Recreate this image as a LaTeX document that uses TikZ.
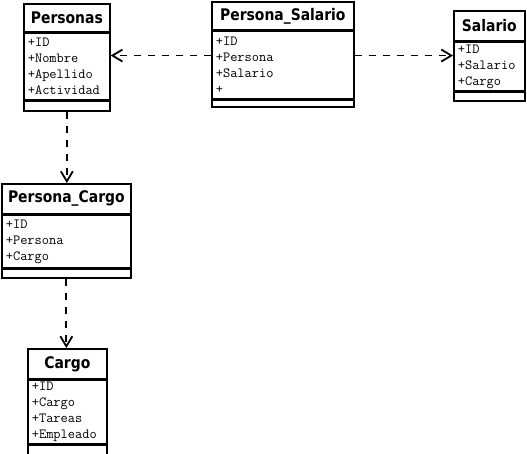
\documentclass[tikz,border=0pt]{standalone}
\usepackage{fontspec}
\usetikzlibrary{positioning,arrows.meta}
\newfontfamily\titlefont{DejaVu Sans}[FakeStretch=0.87]

\begin{document}
\begin{tikzpicture}[x=1pt, y=-1pt,
    ctitle/.style={draw, line width=1.7pt, inner sep=0pt, anchor=north west,
      font=\titlefont\bfseries\fontsize{16}{18}\selectfont},
    cattr/.style={draw, line width=1.7pt, inner xsep=4pt, inner ysep=0pt,
      align=left, font=\ttfamily\fontsize{14}{16}\selectfont},
    cend/.style={draw, line width=1.7pt, inner sep=0pt},
    dep/.style={line width=1.8pt, dash pattern=on 7pt off 7pt,
      -{Straight Barb[length=10pt,width=12pt]}}]
        \useasboundingbox (0,0) rectangle (527,453);

        % Personas
        \node[ctitle, minimum width=86, minimum height=28] (personas) at (23,3) {Personas};
        \node[cattr, minimum height=66, text width=78, below=0pt of personas] (personas-attr)
          {+ID\\+Nombre\\+Apellido\\+Actividad};
        \node[cend, minimum width=86, minimum height=10, below=0pt of personas-attr] (personas-end) {};

        % Persona_Salario
        \node[ctitle, minimum width=142, minimum height=28] (psal) at (211,1) {Persona\_Salario};
        \node[cattr, minimum height=67, text width=134, below=0pt of psal] (psal-attr)
          {+ID\\+Persona\\+Salario\\+};
        \node[cend, minimum width=142, minimum height=7, below=0pt of psal-attr] (psal-end) {};

        % Salario
        \node[ctitle, minimum width=71, minimum height=30] (salario) at (453,10) {Salario};
        \node[cattr, minimum height=48, text width=63, below=0pt of salario] (salario-attr)
          {+ID\\+Salario\\+Cargo};
        \node[cend, minimum width=71, minimum height=9, below=0pt of salario-attr] (salario-end) {};

        % Persona_Cargo
        \node[ctitle, minimum width=129, minimum height=30] (pcargo) at (1,183) {Persona\_Cargo};
        \node[cattr, minimum height=52, text width=121, below=0pt of pcargo] (pcargo-attr)
          {+ID\\+Persona\\+Cargo};
        \node[cend, minimum width=129, minimum height=9, below=0pt of pcargo-attr] (pcargo-end) {};

        % Cargo
        \node[ctitle, minimum width=79, minimum height=30] (cargo) at (27,348) {Cargo};
        \node[cattr, minimum height=63, text width=71, below=0pt of cargo] (cargo-attr)
          {+ID\\+Cargo\\+Tareas\\+Empleado};
        \node[cend, minimum width=79, minimum height=10, below=0pt of cargo-attr] (cargo-end) {};

        % dependencies
        \draw[dep] ([yshift=9.5pt]psal-attr.west) coordinate (l) -- (l -| personas-attr.east);
        \draw[dep] ([yshift=9.5pt]psal-attr.east) coordinate (r) -- (r -| salario-attr.west);
        \draw[dep] (personas-end.south) -- (personas-end.south |- pcargo.north);
        \draw[dep] (pcargo-end.south) -- (pcargo-end.south |- cargo.north);
    \end{tikzpicture}
\end{document}
